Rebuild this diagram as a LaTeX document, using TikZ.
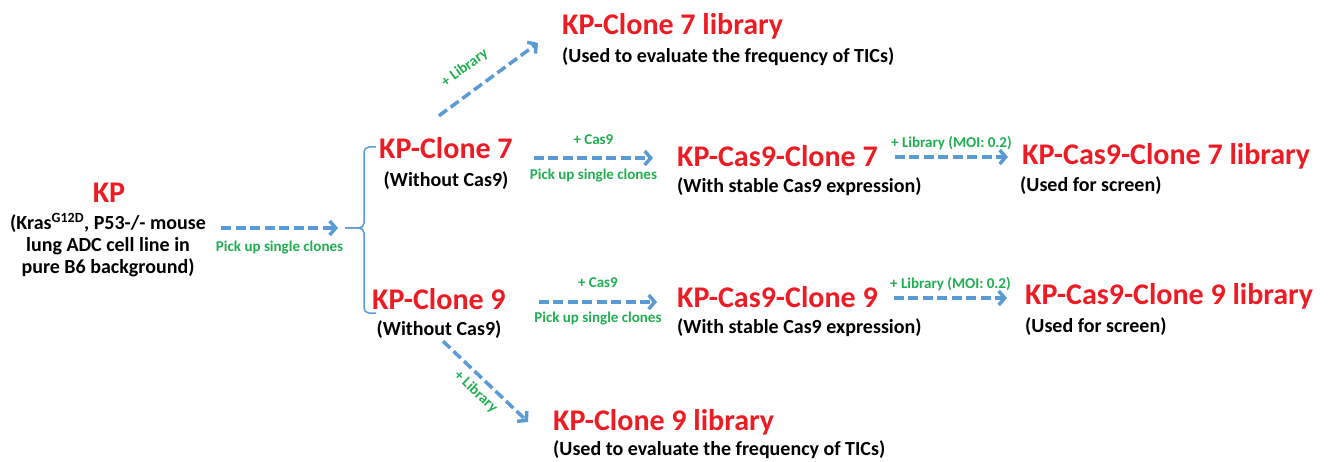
\documentclass[tikz,border=0pt]{standalone}
\usepackage{fontspec}
\setmainfont{Carlito}
\usetikzlibrary{arrows.meta}
\definecolor{c1}{HTML}{5B9BD5}
\definecolor{c2}{HTML}{ED1C24}
\definecolor{c3}{HTML}{1FAF50}

\begin{document}
\begin{tikzpicture}[x=1pt, y=-1pt,
        title/.style={inner sep=0pt, c2, font=\fontsize{30}{36}\selectfont\bfseries},
        note/.style={inner sep=0pt, font=\fontsize{20}{22}\selectfont\bfseries},
        tag/.style={inner sep=0pt, c3, font=\fontsize{15}{18}\selectfont\bfseries},
        flow/.style={c1, line width=3.5pt, dash pattern=on 10pt off 4.5pt, -{Straight Barb[length=6pt,width=14pt]}},
        bracket/.style={c1, line width=1.5pt, rounded corners=5pt}]
        \useasboundingbox (0,0) rectangle (1330,462);
        % starting line
        \node[title, anchor=base] (kp) at (109,203) {KP};
        \node[note, anchor=base, align=center] (kpnote) at (108,274) {(Kras\textsuperscript{G12D}, P53-/- mouse\\lung ADC cell line in\\pure B6 background)};
        % single clones
        \node[title, anchor=base west] (c7) at (379,159) {KP-Clone 7};
        \node[note, anchor=base] (c7note) at (446,187) {(Without Cas9)};
        \node[title, anchor=base west] (c9) at (372,309) {KP-Clone 9};
        \node[note, anchor=base] (c9note) at (439,335) {(Without Cas9)};
        \node[title, anchor=base west] (lib7) at (562,35) {KP-Clone 7 library};
        \node[note, anchor=base west] (lib7note) at (562,63) {(Used to evaluate the frequency of TICs)};
        \node[title, anchor=base west] (lib9) at (553,430) {KP-Clone 9 library};
        \node[note, anchor=base west] (lib9note) at (553,455) {(Used to evaluate the frequency of TICs)};
        % Cas9 clones
        \node[title, anchor=base west] (cc7) at (677,167) {KP-Cas9-Clone 7};
        \node[note, anchor=base west] (cc7note) at (677,193) {(With stable Cas9 expression)};
        \node[title, anchor=base west] (cc9) at (677,307) {KP-Cas9-Clone 9};
        \node[note, anchor=base west] (cc9note) at (677,333) {(With stable Cas9 expression)};
        \node[title, anchor=base west] (ccl7) at (1022,165) {KP-Cas9-Clone 7 library};
        \node[note, anchor=base west] (ccl7note) at (1020,192) {(Used for screen)};
        \node[title, anchor=base west] (ccl9) at (1025,305) {KP-Cas9-Clone 9 library};
        \node[note, anchor=base west] (ccl9note) at (1025,332) {(Used for screen)};
        % brace
        \coordinate (brtip) at (345,228);
        \coordinate (brtop) at (376,147);
        \coordinate (brbot) at (376,313);
        \draw[bracket] (brtop) -- (364,147) -- (364,228) -- (brtip);
        \draw[bracket] (brbot) -- (364,313) -- (364,228) -- (brtip);
        \draw[flow] ([xshift=15pt]kpnote.east |- brtip) -- ([xshift=-7pt]brtip) node[tag, midway, below=11pt] {Pick up single clones};
        % + Cas9
        \draw[flow] ([shift={(21,-1)}]c7.base east) -- ([shift={(-24,-1)}]c7.base east -| cc7.base west)
                node[tag, midway, above=12pt] {+ Cas9} node[tag, midway, below=9pt] {Pick up single clones};
        \draw[flow] ([shift={(33,-7)}]c9.base east) -- ([shift={(-20,-7)}]c9.base east -| cc9.base west)
                node[tag, midway, above=13pt] {+ Cas9} node[tag, midway, below=8pt] {Pick up single clones};
        % + library
        \draw[flow] ([shift={(17,-10)}]cc7.base east) -- ([shift={(-14,-10)}]cc7.base east -| ccl7.base west) node[tag, midway, above=5pt] {+ Library (MOI: 0.2)};
        \draw[flow] ([shift={(16,-9)}]cc9.base east) -- ([shift={(-18,-9)}]cc9.base east -| ccl9.base west) node[tag, midway, above=5pt] {+ Library (MOI: 0.2)};
        \draw[flow] ([shift={(-7,-22)}]c7.north) -- ([shift={(-24,8)}]lib7.base west) node[tag, pos=0.4, sloped, above=15pt] {+ Library};
        \draw[flow] ([shift={(4,3)}]c9note.south) -- ([shift={(-25,-8)}]lib9.base west) node[tag, midway, sloped, below=6pt] {+ Library};
\end{tikzpicture}
\end{document}
